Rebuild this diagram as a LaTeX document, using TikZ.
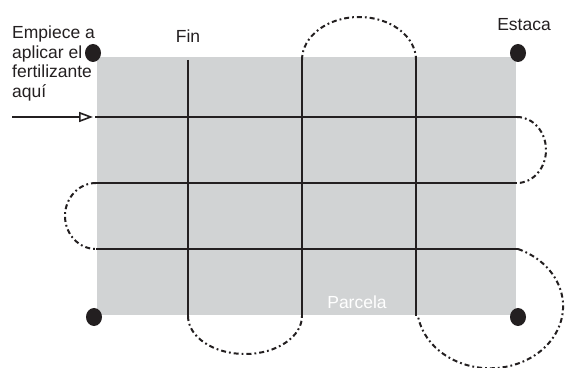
\documentclass[tikz,border=0pt]{standalone}
\usepackage{fontspec}
\setmainfont{Liberation Sans}
\usetikzlibrary{arrows.meta}
\definecolor{plot}{RGB}{209,211,212}
\definecolor{ink}{RGB}{35,31,32}
\tikzset{
  gridline/.style={draw=ink, line width=2.4pt},
  loopline/.style={draw=ink, line width=2pt, dash pattern=on 5pt off 3pt on 1.8pt off 3pt},
  stake/.style={fill=ink},
  lbl/.style={font=\fontsize{17.5}{19.5}\selectfont, inner sep=0pt, text=ink},
}
\begin{document}
\begin{tikzpicture}[x=1pt,y=1pt]
\useasboundingbox (0,0) rectangle (565,367);
% plot
\fill[plot] (97,52) rectangle (516,310);
% named line endpoints
\coordinate (v1t) at (188,307); \coordinate (v1b) at (188,51);
\coordinate (v2t) at (302,307); \coordinate (v2b) at (302,51);
\coordinate (v3t) at (416,307); \coordinate (v3b) at (416,51);
\coordinate (h1w) at (95,250);  \coordinate (h1e) at (517,250);
\coordinate (h2w) at (96,184);  \coordinate (h2e) at (517,184);
\coordinate (h3w) at (96,118);  \coordinate (h3e) at (518,118);
% grid
\draw[gridline] (v1t) -- (v1b);
\draw[gridline] (v2t) -- (v2b);
\draw[gridline] (v3t) -- (v3b);
\draw[gridline] (h1w) -- (h1e);
\draw[gridline] (h2w) -- (h2e);
\draw[gridline] (h3w) -- (h3e);
% turning loops
\draw[loopline] (v2t) arc[start angle=180, end angle=0, x radius=57, y radius=43];
\draw[loopline] (h1e) arc[start angle=90, end angle=-90, x radius=29, y radius=33];
\draw[loopline] (h2w) arc[start angle=90, end angle=270, x radius=31, y radius=33];
\draw[loopline] (v1b) arc[start angle=180, end angle=360, x radius=57, y radius=38];
\draw[loopline] (h3e) arc[start angle=67.5, end angle=-172, x radius=73, y radius=62];
% start arrow
\coordinate (arrowstart) at (12,250);
\coordinate (arrowend) at (93,250);
\draw[draw=ink, line width=1.8pt, -{Triangle[open, length=14pt, width=10pt, line width=1.6pt]}] (arrowstart) -- (arrowend);
% stakes
\fill[stake] (93,314) ellipse[x radius=8, y radius=9];
\fill[stake] (518,314) ellipse[x radius=8, y radius=9];
\fill[stake] (94,50) ellipse[x radius=8, y radius=9];
\fill[stake] (518,50) ellipse[x radius=8, y radius=9];
% labels
\node[lbl, anchor=north west, align=left] (start) at (12,341) {Empiece a\\aplicar el\\fertilizante\\aquí};
\node[lbl, anchor=base] (fin) at (188,324) {Fin};
\node[lbl, anchor=base] (estaca) at (524,336) {Estaca};
\node[lbl, anchor=base, text=white] (parcela) at (357,59) {Parcela};
\end{tikzpicture}
\end{document}
